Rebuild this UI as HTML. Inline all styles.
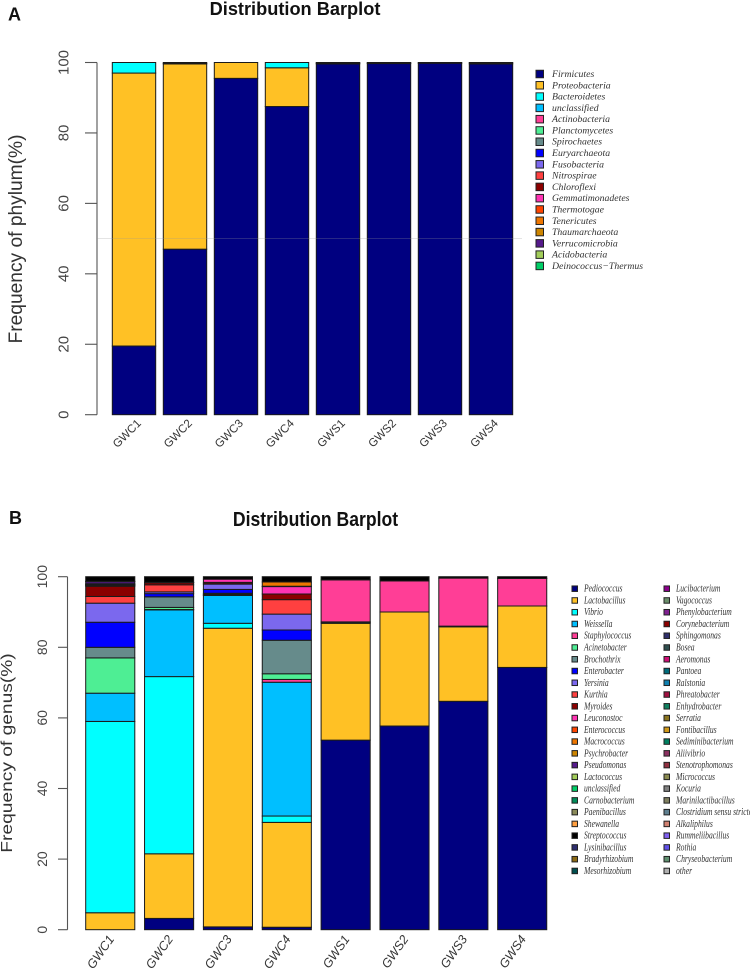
<!DOCTYPE html>
<html><head><meta charset="utf-8"><title>Distribution Barplot</title>
<style>
html,body{margin:0;padding:0;background:#fff;width:750px;height:969px;overflow:hidden}
svg{display:block;filter:blur(.25px)}
text{font-family:"Liberation Sans",sans-serif}
</style></head><body>
<svg id="fig" width="750" height="969" viewBox="0 0 750 969" xmlns="http://www.w3.org/2000/svg">
<text x="8" y="20.7" font-size="18" font-weight="bold" fill="#111">A</text>
<text x="295" y="15" font-size="18.2" font-weight="bold" text-anchor="middle" fill="#111">Distribution Barplot</text>
<text x="9" y="524" font-size="18" font-weight="bold" fill="#111">B</text>
<text x="0" y="0" transform="translate(315.5 526) scale(.88 1)" font-size="20" font-weight="bold" text-anchor="middle" fill="#111">Distribution Barplot</text>
<text transform="translate(22 239) rotate(-90)" font-size="19.2" text-anchor="middle" fill="#333">Frequency of phylum(%)</text>
<text transform="translate(12 753) rotate(-90) scale(1.2 1)" font-size="16" text-anchor="middle" fill="#333">Frequency of genus(%)</text>
<g id="panelA"></g>
<g id="panelB"></g>
<line x1="97" x2="522" y1="238.4" y2="238.4" stroke="#999" stroke-opacity=".35" stroke-width=".7"/>
</svg>
<script>
const sampleLabels = ["GWC1","GWC2","GWC3","GWC4","GWS1","GWS2","GWS3","GWS4"];
const tickLabels = [0,20,40,60,80,100];

const phylumNames = ["Firmicutes","Proteobacteria","Bacteroidetes","unclassified","Actinobacteria","Planctomycetes","Spirochaetes","Euryarchaeota","Fusobacteria","Nitrospirae","Chloroflexi","Gemmatimonadetes","Thermotogae","Tenericutes","Thaumarchaeota","Verrucomicrobia","Acidobacteria","Deinococcus\u2212Thermus"];
const phylumColors = ["#000080","#FFC125","#00FFFF","#00BFFF","#FF3E96","#4EEE94","#668B8B","#0000FF","#7B68EE","#FF4040","#8B0000","#FF34B3","#FF4500","#EE7600","#CD8500","#551A8B","#A2CD5A","#00CD66"];
const phylumGWC1 = [19.5,77.5,3];
const phylumGWC2 = [47,52.6,0.2,0.2];
const phylumGWC3 = [95.5,4.5];
const phylumGWC4 = [87.5,11,1.5];
const phylumGWS1 = [99.6,0.2,0.1,0.1];
const phylumGWS2 = [99.7,0.2,0.1];
const phylumGWS3 = [99.8,0.1,0.1];
const phylumGWS4 = [99.6,0.3,0.1];

const genusNamesLeft = ["Pediococcus","Lactobacillus","Vibrio","Weissella","Staphylococcus","Acinetobacter","Brochothrix","Enterobacter","Yersinia","Kurthia","Myroides","Leuconostoc","Enterococcus","Macrococcus","Psychrobacter","Pseudomonas","Lactococcus","unclassified","Carnobacterium","Paenibacillus","Shewanella","Streptococcus","Lysinibacillus","Bradyrhizobium","Mesorhizobium"];
const genusNamesRight = ["Lucibacterium","Vagococcus","Phenylobacterium","Corynebacterium","Sphingomonas","Bosea","Aeromonas","Pantoea","Ralstonia","Phreatobacter","Enhydrobacter","Serratia","Fontibacillus","Sediminibacterium","Aliivibrio","Stenotrophomonas","Micrococcus","Kocuria","Marinilactibacillus","Clostridium sensu stricto","Alkaliphilus","Rummeliibacillus","Rothia","Chryseobacterium","other"];
const genusColorsLeft = ["#000080","#FFC125","#00FFFF","#00BFFF","#FF3E96","#4EEE94","#668B8B","#0000FF","#7B68EE","#FF4040","#8B0000","#FF34B3","#FF4500","#EE7600","#CD8500","#551A8B","#A2CD5A","#00CD66","#008B5A","#8B8B5A","#FF9F40","#000000","#2F2F6F","#8B6914","#004F4F"];
const genusColorsRight = ["#8B008B","#6B8E6B","#7F2090","#8B0000","#2F2F6B","#2F4F4F","#CD1076","#006B7B","#1080B0","#A01040","#108060","#8B7520","#D09818","#008060","#8B3060","#903040","#8B8B50","#808080","#7F7F60","#5F8090","#D08070","#8060F0","#6050E8","#609070","#B0B0B0"];
const genusGWC1 = [0,4.8,54.2,8,0,10,3,7.1,5.4,1.9,2.9,0.2,0.2,0.1,0.2,0.6,0.1,0,0,0,0,1.3];
const genusGWC2 = [3.2,18.3,50.2,18.9,0.1,0.6,3,0.9,0.5,2,0.6,0.1,0,0,0,0,0,0,0,0,0,1.6];
const genusGWC3 = [0.8,84.6,1.4,7.9,0.1,0.2,0.3,1.1,1.5,0.1,0.4,0.9,0,0,0,0,0,0,0,0,0,0.7];
const genusGWC4 = [0.7,29.7,1.8,37.9,0.8,1.6,9.5,2.9,4.5,4.1,1.6,2.1,0.1,1.2,0,0,0,0,0,0,0,1.5];
const genusGWS1 = [53.7,33.1,0.3,0.1,11.9,0,0,0,0,0,0,0,0,0,0,0,0,0,0,0,0,0.9];
const genusGWS2 = [57.7,32.3,0,0,8.8,0,0,0,0,0,0,0,0,0,0,0,0,0,0,0,0,1.2];
const genusGWS3 = [64.7,21.1,0.2,0,13.6,0,0,0,0,0,0,0,0,0,0,0,0,0,0,0,0,0.4];
const genusGWS4 = [74.3,17.4,0,0,7.8,0,0,0,0,0,0,0,0,0,0,0,0,0,0,0,0,0.5];

const phylumSeries = [phylumGWC1,phylumGWC2,phylumGWC3,phylumGWC4,phylumGWS1,phylumGWS2,phylumGWS3,phylumGWS4];
const genusSeries = [genusGWC1,genusGWC2,genusGWC3,genusGWC4,genusGWS1,genusGWS2,genusGWS3,genusGWS4];

const NS = "http://www.w3.org/2000/svg";
function mk(parent, tag, attrs, txt){
  const el = document.createElementNS(NS, tag);
  for (const k in attrs) el.setAttribute(k, attrs[k]);
  if (txt !== undefined) el.textContent = txt;
  parent.appendChild(el);
  return el;
}
const yA = v => 414.7 - v * 3.522;
const xA = i => 112.3 + i * 51;
const yB = v => 929.7 - v * 3.53;
const xB = i => 85.7 + i * 58.85;

function drawBars(g, series, colors, names, xFn, yFn, w, prefix){
  series.forEach((vals, s) => {
    let cum = 0;
    vals.forEach((v, k) => {
      if (v <= 0) return;
      const r = mk(g, "rect", {x:xFn(s), y:yFn(cum+v), width:w, height:yFn(cum)-yFn(cum+v), fill:colors[k], stroke:"#1a1a1a", "stroke-width":1});
      
      
      cum += v;
    });
  });
}
function drawAxis(g, yFn, axisX, tickLen, labelX, fs, prefix){
  const ax = mk(g, "line", {x1:axisX, x2:axisX, y1:yFn(0), y2:yFn(100), stroke:"#555", "stroke-width":1.1});
  
  
  tickLabels.forEach(t => {
    const tk = mk(g, "line", {x1:axisX-tickLen, x2:axisX, y1:yFn(t), y2:yFn(t), stroke:"#555", "stroke-width":1.1});
    
    
    const lb = mk(g, "text", {transform:`translate(${labelX} ${yFn(t)}) rotate(-90)`, "font-size":fs, "text-anchor":"middle", fill:"#444"}, String(t));
    
    
  });
}
function drawLegend(g, names, colors, swX, swSize, txtX, y0, step, fs, sx, prefix){
  names.forEach((n, i) => {
    const y = y0 + i * step;
    const sw = mk(g, "rect", {x:swX, y:y-swSize/2, width:swSize, height:swSize, fill:colors[i], stroke:"#222", "stroke-width":1});
    
    
    const t = mk(g, "text", {transform:`translate(${txtX} ${y+3}) scale(${sx} 1)`, "font-size":fs, "font-style":"italic", fill:"#333", style:'font-family:"Liberation Serif",serif'}, n);
    
    
  });
}

const gA = document.getElementById("panelA");
const gB = document.getElementById("panelB");
drawBars(gA, phylumSeries, phylumColors, phylumNames, xA, yA, 43.4, 'phylum');
drawAxis(gA, yA, 97, 12, 68.5, 15, 'phylum');
sampleLabels.forEach((n, i) => {
  const t = mk(gA, "text", {transform:`translate(${xA(i)+29.5} ${424}) rotate(-45)`, "font-size":11.5, "text-anchor":"end", fill:"#333"}, n);
  
  
});
drawLegend(gA, phylumNames, phylumColors, 536, 7.5, 552, 74, 11.29, 9.75, 1, 'phylum');

drawBars(gB, genusSeries, genusColorsLeft, genusNamesLeft, xB, yB, 49.1, 'genus');
drawAxis(gB, yB, 67.5, 9.5, 47, 14, 'genus');
sampleLabels.forEach((n, i) => {
  const t = mk(gB, "text", {transform:`translate(${xB(i)+29} ${939}) rotate(-55)`, "font-size":12.5, "font-style":"italic", "text-anchor":"end", fill:"#333"}, n);
  
  
});
drawLegend(gB, genusNamesLeft, genusColorsLeft, 572, 5.5, 584, 588.7, 11.76, 10.3, .74, 'genus');
drawLegend(gB, genusNamesRight, genusColorsRight, 664, 5.5, 676, 588.7, 11.76, 10.3, .74, 'genus');
</script>
</body></html>
